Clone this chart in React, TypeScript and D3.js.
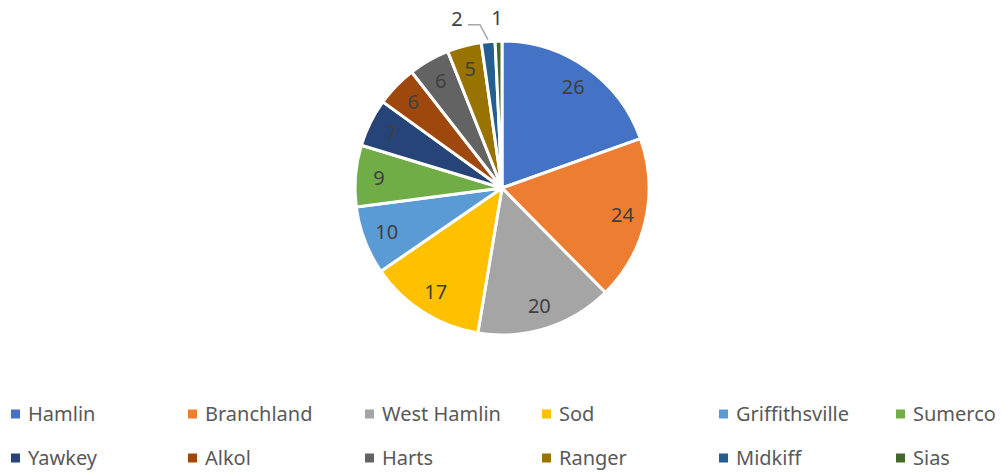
import React from "react";
import * as d3 from "d3";

const WIDTH = 1001;
const HEIGHT = 472;
const CX = 502;
const CY = 188;
const RADIUS = 147;
const FONT = "'Noto Sans', 'Open Sans', sans-serif";

const towns = [
  "Hamlin", "Branchland", "West Hamlin", "Sod", "Griffithsville", "Sumerco",
  "Yawkey", "Alkol", "Harts", "Ranger", "Midkiff", "Sias",
];
const counts = [26, 24, 20, 17, 10, 9, 7, 6, 6, 5, 2, 1];
const colors = [
  "#4472C4", "#ED7D31", "#A5A5A5", "#FFC000", "#5B9BD5", "#70AD47",
  "#264478", "#9E480E", "#636363", "#997300", "#255E91", "#43682B",
];

const LEGEND_X0 = 11;
const LEGEND_STEP = 177;
const LEGEND_ROWS = [414, 458];
const PER_ROW = 6;

type Slice = { name: string; value: number; color: string };

export default function App() {
  const data: Slice[] = towns.map((name, i) => ({ name, value: counts[i], color: colors[i] }));

  const pie = d3.pie<Slice>().value((d) => d.value).sort(null);
  const arcs = pie(data);
  const arc = d3.arc<d3.PieArcDatum<Slice>>().innerRadius(0).outerRadius(RADIUS);

  // small slices get their label outside, with a leader line when nudged
  const outside = arcs.filter((a) => a.value < 3);
  const outsideLabels = outside.map((a, i) => {
    const mid = (a.startAngle + a.endAngle) / 2;
    const r = RADIUS + 23;
    let x = Math.sin(mid) * r;
    const y = -Math.cos(mid) * r;
    const nudge = i < outside.length - 1 ? -29 : -1;
    x += nudge;
    const tip = [Math.sin(mid) * (RADIUS + 2), -Math.cos(mid) * (RADIUS + 2)];
    return { a, x, y, nudge, tip };
  });

  return (
    <svg width={WIDTH} height={HEIGHT} style={{ position: "absolute", left: 0, top: 0 }}>
      <rect width={WIDTH} height={HEIGHT} fill="#fff" />
      <g transform={`translate(${CX},${CY})`}>
        {arcs.map((a, i) => (
          <path key={i} d={arc(a) || ""} fill={a.data.color} stroke="#fff" strokeWidth={3} strokeLinejoin="round" />
        ))}
        {arcs
          .filter((a) => a.value >= 3)
          .map((a, i) => {
            const mid = (a.startAngle + a.endAngle) / 2;
            const r = RADIUS * 0.84;
            return (
              <text
                key={i}
                x={Math.sin(mid) * r}
                y={-Math.cos(mid) * r}
                dy="0.35em"
                textAnchor="middle"
                fontFamily={FONT}
                fontSize={20}
                fill="#404040"
              >
                {a.value}
              </text>
            );
          })}
        {outsideLabels.map((l, i) => (
          <g key={i}>
            {l.nudge < -5 && (
              <polyline
                points={`${l.x + 11},${l.y + 6} ${l.x + 23},${l.y + 6} ${l.tip[0]},${l.tip[1]}`}
                fill="none"
                stroke="#A6A6A6"
                strokeWidth={1.5}
              />
            )}
            <text
              x={l.x}
              y={l.y}
              dy="0.35em"
              textAnchor="middle"
              fontFamily={FONT}
              fontSize={20}
              fill="#404040"
            >
              {l.a.value}
            </text>
          </g>
        ))}
      </g>
      <g>
        {data.map((d, i) => {
          const col = i % PER_ROW;
          const row = Math.floor(i / PER_ROW);
          const x = LEGEND_X0 + col * LEGEND_STEP;
          const y = LEGEND_ROWS[row];
          return (
            <g key={d.name} transform={`translate(${x},${y})`}>
              <rect x={0} y={-4.5} width={9} height={9} fill={d.color} />
              <text x={17} y={0} dy="0.35em" fontFamily={FONT} fontSize={20} fill="#595959">
                {d.name}
              </text>
            </g>
          );
        })}
      </g>
    </svg>
  );
}
